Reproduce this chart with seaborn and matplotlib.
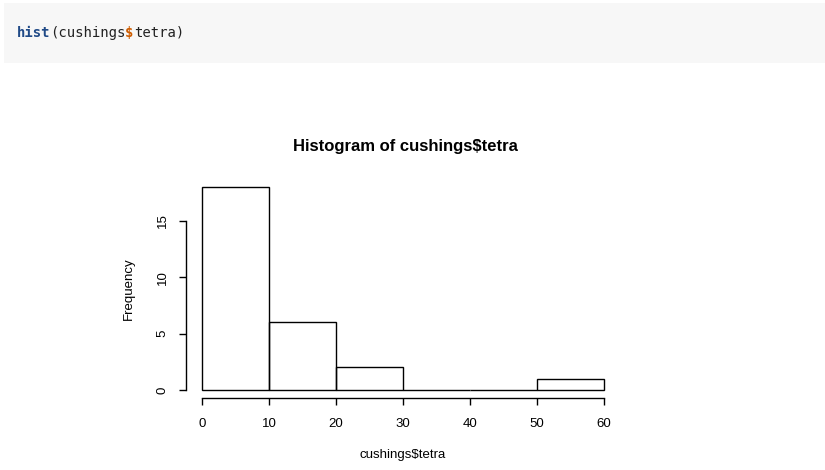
import seaborn as sns
import matplotlib.pyplot as plt
from matplotlib.patches import Rectangle

bin_edges = [0, 10, 20, 30, 40, 50, 60]
bin_mids = [5, 15, 25, 35, 45, 55]
counts = [18, 6, 2, 0, 0, 1]
x_ticks = [0, 10, 20, 30, 40, 50, 60]
y_ticks = [0, 5, 10, 15]

plt.rcParams['font.family'] = ['Liberation Sans', 'DejaVu Sans']

fig = plt.figure(figsize=(8.25, 4.70), dpi=100)

# bloco de codigo no topo
fig.add_artist(Rectangle((4 / 825, 1 - 63 / 470), 821 / 825, 60 / 470,
                         transform=fig.transFigure, facecolor='#f7f7f7',
                         edgecolor='none', zorder=0))
code_size = 10
char_w = 0.6 * code_size * 100 / 72 / 825
partes = [('hist', '#204a87', 'bold'), ('(cushings', '#222222', 'normal'),
          ('$', '#ce5c00', 'bold'), ('tetra)', '#222222', 'normal')]
pos = 17 / 825
for txt, cor, peso in partes:
    fig.text(pos, 1 - 33 / 470, txt, color=cor, fontweight=peso,
             family=['DejaVu Sans Mono', 'Liberation Mono'], size=code_size,
             ha='left', va='center')
    pos += len(txt) * char_w

ax = fig.add_axes([186 / 825, 72 / 470, 434 / 825, 219 / 470])
sns.histplot(x=bin_mids, weights=counts, bins=bin_edges, fill=False,
             color='black', linewidth=1, ax=ax)

ax.set_xlim(-2.4, 62.4)
ax.set_ylim(-0.72, 18.72)
ax.set_xticks(x_ticks)
ax.set_yticks(y_ticks)
ax.set_yticklabels([str(v) for v in y_ticks], rotation=90, va='center')
ax.tick_params(length=5, width=1, labelsize=9.5, pad=7.5, color='black')
ax.tick_params(axis='x', pad=9.5)
for s in ['top', 'right']:
    ax.spines[s].set_visible(False)
ax.spines['left'].set_bounds(0, 15)
ax.spines['bottom'].set_bounds(0, 60)
ax.spines['left'].set_linewidth(1)
ax.spines['bottom'].set_linewidth(1)

ax.set_xlabel('cushings$tetra', fontsize=9.5)
ax.set_ylabel('Frequency', fontsize=9.5)
ax.xaxis.set_label_coords(0.5, -0.232)
ax.yaxis.set_label_coords(-0.117, 0.5)

fig.text(405 / 825, 1 - 146 / 470, 'Histogram of cushings$tetra',
         fontweight='bold', size=12, ha='center', va='center')

fig.savefig('out.png', dpi=100)
